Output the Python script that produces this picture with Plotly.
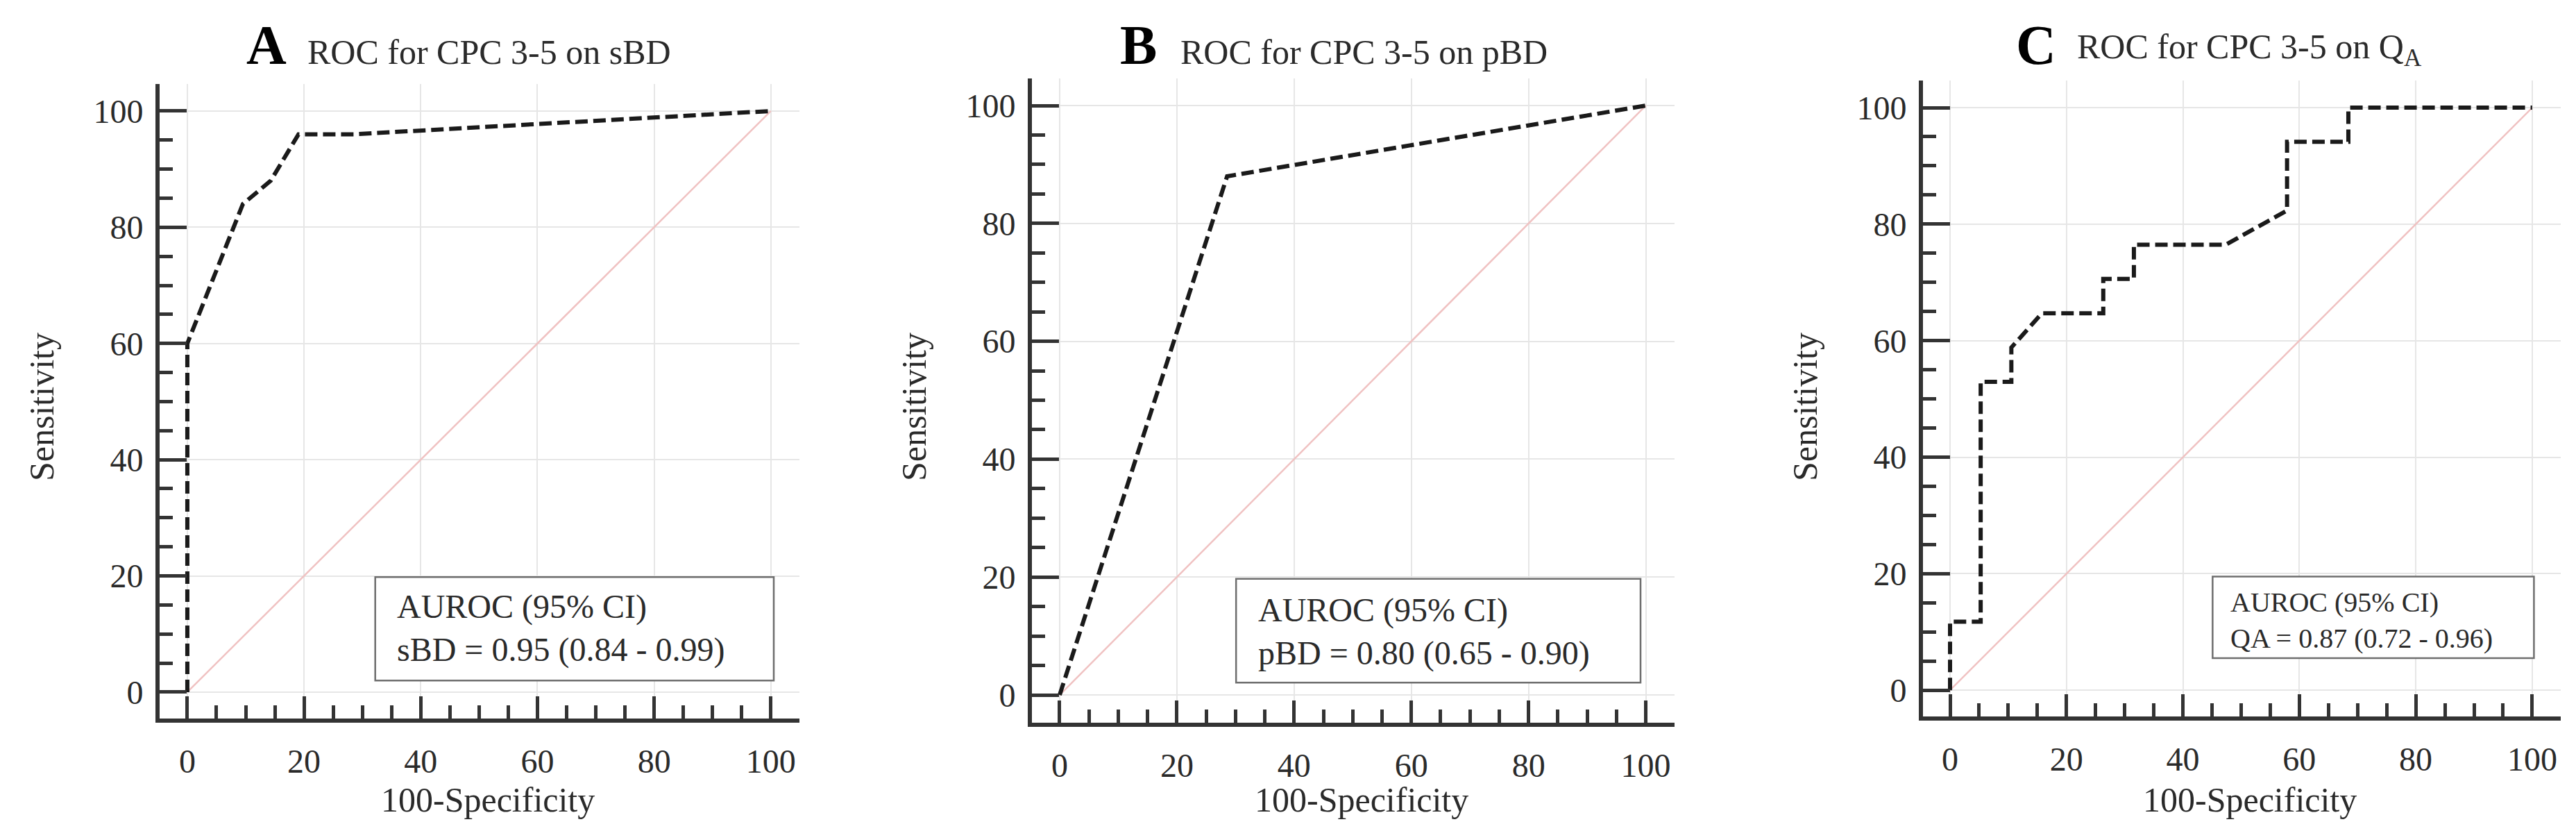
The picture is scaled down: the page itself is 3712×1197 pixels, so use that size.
import plotly.graph_objects as go

# ROC points (x = 100-Specificity, y = Sensitivity)
sbd_fpr = [0, 0, 9.52, 14.29, 19.05, 28.57, 100]
sbd_sens = [0, 60, 84, 88, 96, 96, 100]

pbd_fpr = [0, 28.57, 100]
pbd_sens = [0, 88, 100]

qa_fpr = [0, 0, 5.26, 5.26, 10.53, 10.53, 15.79, 26.32, 26.32, 31.58, 31.58,
          47.37, 57.89, 57.89, 68.42, 68.42, 100]
qa_sens = [0, 11.76, 11.76, 52.94, 52.94, 58.82, 64.71, 64.71, 70.59, 70.59,
           76.47, 76.47, 82.35, 94.12, 94.12, 100, 100]

ref_x = [0, 100]
ref_y = [0, 100]

panel_letters = ["A", "B", "C"]
panel_titles = ["ROC for CPC 3-5 on sBD", "ROC for CPC 3-5 on pBD",
                "ROC for CPC 3-5 on Q<sub>A</sub>"]
auroc_head = "AUROC (95% CI)"
auroc_lines = ["sBD = 0.95 (0.84 - 0.99)", "pBD = 0.80 (0.65 - 0.90)",
               "QA = 0.87 (0.72 - 0.96)"]
tick_vals = [0, 20, 40, 60, 80, 100]

W, H = 3712, 1197
FONT = "Liberation Serif"
AXC = "#333333"

# plot area of each panel in pixels: left, right, top, bottom
boxes = [(222, 1144, 113, 1027), (1479, 2405, 105, 1033), (2763, 3682, 108, 1024)]
x_ranges = [[-4.75, 104.9], [-4.73, 104.9], [-4.65, 104.9]]
y_ranges = [[-4.55, 104.65], [-4.71, 104.6], [-4.5, 104.65]]
# title: letter left px, text left px
title_pos = [(345, 433), (1604, 1691), (2895, 2983)]
TITLE_BASE = 85
# AUROC box in data units: x0, x1, y0, y1 ; text x, text top ; font size
legend_box = [(32.2, 100.5, 2.0, 19.8), (30.1, 99.1, 2.1, 19.7), (45.1, 100.3, 5.5, 19.5)]
legend_text = [(35.7, 18.1), (33.6, 17.8), (47.9, 18.0)]
legend_font = [48, 48, 40]

curves = [(sbd_fpr, sbd_sens), (pbd_fpr, pbd_sens), (qa_fpr, qa_sens)]

fig = go.Figure()
annotations = []
shapes = []

for i in range(3):
    sfx = "" if i == 0 else str(i + 1)
    xa, ya = "x" + sfx, "y" + sfx
    left, right, top, bottom = boxes[i]

    fig.add_trace(go.Scatter(x=ref_x, y=ref_y, mode="lines", xaxis=xa, yaxis=ya,
                             line=dict(color="#f0c2c2", width=2.5),
                             showlegend=False, hoverinfo="skip"))
    fx, fy = curves[i]
    fig.add_trace(go.Scatter(x=fx, y=fy, mode="lines", xaxis=xa, yaxis=ya,
                             line=dict(color="#1a1a1a", width=6, dash="18px,8px"),
                             showlegend=False))

    common = dict(
        showline=True, linewidth=6, linecolor=AXC, mirror=False,
        ticks="inside", tickwidth=4.5, tickcolor=AXC,
        tickvals=tick_vals, showgrid=True, gridcolor="#e6e6e6", gridwidth=2,
        zeroline=False, fixedrange=True,
        tickfont=dict(family=FONT, size=48, color="#2a2a2a"),
        minor=dict(ticks="inside", tickwidth=4.5, tickcolor=AXC, dtick=5, tick0=0,
                   showgrid=False),
    )
    fig.layout["xaxis" + sfx] = dict(
        common, domain=[left / W, right / W], range=x_ranges[i], anchor=ya,
        ticklen=32, ticklabelstandoff=14,
        minor=dict(common["minor"], ticklen=19),
    )
    fig.layout["yaxis" + sfx] = dict(
        common, domain=[1 - bottom / H, 1 - top / H], range=y_ranges[i], anchor=xa,
        ticklen=39, ticklabelstandoff=8,
        minor=dict(common["minor"], ticklen=19),
    )

    # panel title
    lx, tx = title_pos[i]
    annotations.append(dict(
        text="<b>" + panel_letters[i] + "</b>", xref="paper", yref="paper",
        x=lx / W, y=1 - (TITLE_BASE + 0.216 * 80 + 1) / H,
        xanchor="left", yanchor="bottom", showarrow=False,
        font=dict(family=FONT, size=80, color="#000000")))
    annotations.append(dict(
        text=panel_titles[i], xref="paper", yref="paper",
        x=tx / W, y=1 - (TITLE_BASE + 0.216 * 50 + 1) / H,
        xanchor="left", yanchor="bottom", showarrow=False,
        font=dict(family=FONT, size=50, color="#2a2a2a")))

    # axis titles
    x0px = left + (0 - x_ranges[i][0]) / (x_ranges[i][1] - x_ranges[i][0]) * (right - left)
    xpu = (right - left) / (x_ranges[i][1] - x_ranges[i][0])
    annotations.append(dict(
        text="100-Specificity", xref="paper", yref="paper",
        x=(x0px + 51.5 * xpu) / W, y=1 - (1162 + 0.216 * 50 + 1) / H,
        xanchor="center", yanchor="bottom", showarrow=False,
        font=dict(family=FONT, size=50, color="#2a2a2a")))
    annotations.append(dict(
        text="Sensitivity", xref="paper", yref="paper",
        x=(left - 170) / W, y=1 - 578 / H, textangle=-90,
        xanchor="center", yanchor="middle", showarrow=False,
        font=dict(family=FONT, size=50, color="#2a2a2a")))

    # AUROC box
    bx0, bx1, by0, by1 = legend_box[i]
    shapes.append(dict(type="rect", xref=xa, yref=ya, x0=bx0, x1=bx1, y0=by0, y1=by1,
                       line=dict(color="#6e6e6e", width=2.5), fillcolor="white",
                       layer="above"))
    ltx, lty = legend_text[i]
    annotations.append(dict(
        text=auroc_head + "<br>" + auroc_lines[i], xref=xa, yref=ya,
        x=ltx, y=lty, xanchor="left", yanchor="top", align="left", showarrow=False,
        font=dict(family=FONT, size=legend_font[i], color="#2a2a2a")))

fig.update_layout(
    width=W, height=H, margin=dict(l=0, r=0, t=0, b=0),
    paper_bgcolor="white", plot_bgcolor="white",
    annotations=annotations, shapes=shapes, showlegend=False,
    font=dict(family=FONT),
)

fig.write_html("out.html")
